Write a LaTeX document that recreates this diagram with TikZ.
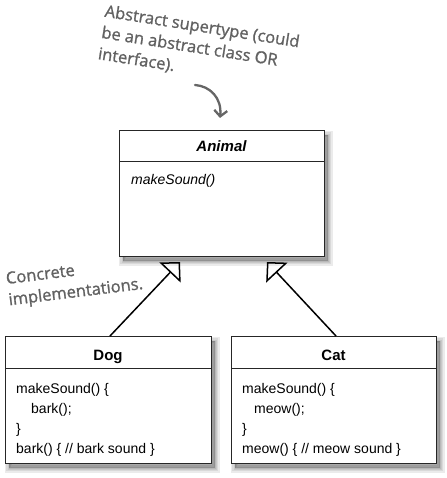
\documentclass[tikz,border=0pt]{standalone}
\usepackage{fontspec}
\setmainfont{Liberation Sans}
\newfontfamily\hand[FakeBold=1.2]{Open Sans}
\usetikzlibrary{arrows.meta,shadows}
\tikzset{
  shadowlayer/.style={general shadow={fill=black, draw=black, opacity=0.08, line width=#1, shadow xshift=4pt, shadow yshift=-5pt}},
  umlbox/.style={draw=black!85, line width=0.9pt, fill=white, inner sep=0pt,
    shadowlayer=9pt, shadowlayer=6pt, shadowlayer=3pt, shadowlayer=0.2pt},
  divider/.style={draw=black!85, line width=0.9pt},
  title/.style={anchor=base, inner sep=0pt, font=\bfseries\fontsize{15}{18}\selectfont},
  member/.style={anchor=base west, inner sep=0pt, font=\fontsize{14}{17}\selectfont},
  note/.style={align=left, inner sep=0pt, text=black!62, font=\hand\fontsize{16.5}{21.5}\selectfont},
  inherit/.style={line width=1.5pt, black, -{Triangle[open, width=29pt, length=14.5pt, line width=1.5pt]}},
  handarrow/.style={line width=2.3pt, black!60, line cap=round, -{Straight Barb[length=6pt, width=13pt, line width=2.3pt]}}
}
\begin{document}
\begin{tikzpicture}[x=1pt,y=-1pt]
\useasboundingbox (0,0) rectangle (446,478);

% Animal
\node[umlbox, minimum width=205pt, minimum height=126pt, anchor=north west] (animal) at (119,130) {};
\draw[divider] ([yshift=-31pt]animal.north west) -- ([yshift=-31pt]animal.north east);
\node[title, font=\bfseries\itshape\fontsize{15}{18}\selectfont] (animaltitle) at (221.5,152) {Animal};
\node[member, font=\itshape\fontsize{14}{17}\selectfont] (animalm) at (131,184) {makeSound()};

% Dog
\node[umlbox, minimum width=206pt, minimum height=127pt, anchor=north west] (dog) at (5,336) {};
\draw[divider] ([yshift=-32pt]dog.north west) -- ([yshift=-32pt]dog.north east);
\node[title] (dogtitle) at (108,360) {Dog};
\node[member] (dog1) at (16,393) {makeSound() \{};
\node[member] (dog2) at (31,413) {bark();};
\node[member] (dog3) at (16,433) {\}};
\node[member] (dog4) at (16,453) {bark() \{ // bark sound \}};

% Cat
\node[umlbox, minimum width=205pt, minimum height=127pt, anchor=north west] (cat) at (231,336) {};
\draw[divider] ([yshift=-32pt]cat.north west) -- ([yshift=-32pt]cat.north east);
\node[title] (cattitle) at (333.5,360) {Cat};
\node[member] (cat1) at (242,393) {makeSound() \{};
\node[member] (cat2) at (254,413) {meow();};
\node[member] (cat3) at (242,433) {\}};
\node[member] (cat4) at (242,453) {meow() \{ // meow sound \}};

% inheritance arrows
\coordinate (tipL) at (180,262);
\coordinate (tipR) at (267,262);
\coordinate (dogtop) at (110,336);
\coordinate (cattop) at (336,336);
\draw[inherit] (dogtop) -- (tipL);
\draw[inherit] (cattop) -- (tipR);

% annotations
\node[note, rotate=-9, anchor=north west] (abstractnote) at (106,4) {Abstract supertype (could\\be an abstract class OR\\interface).};
\coordinate (hs) at (195,85);
\coordinate (he) at (220,118);
\draw[handarrow] (hs) .. controls (210,86) and (222,98) .. (he);

\node[note, rotate=7, anchor=north west] (concretenote) at (5,272) {Concrete\\implementations.};
\end{tikzpicture}
\end{document}
